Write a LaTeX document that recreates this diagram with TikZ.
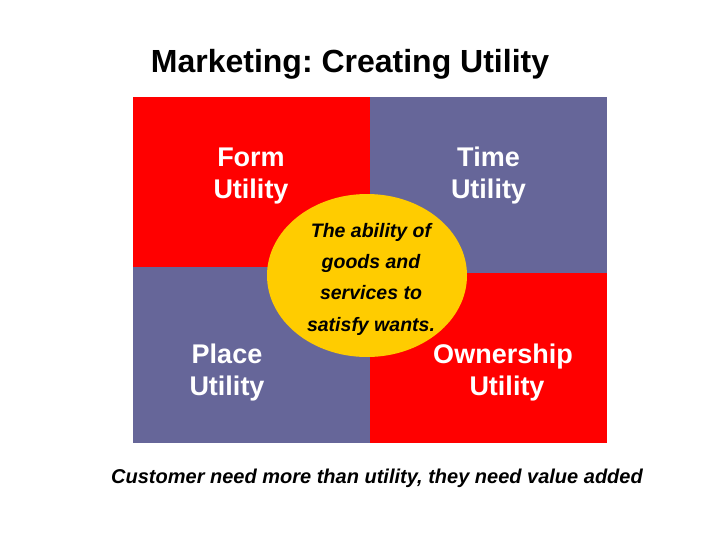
\documentclass[tikz,border=0pt]{standalone}
\usepackage{fontspec}
\setmainfont{Liberation Sans}
\frenchspacing
\usetikzlibrary{shapes.geometric}
\definecolor{qred}{HTML}{FF0000}
\definecolor{qblue}{HTML}{666699}
\definecolor{qyellow}{HTML}{FFCC00}
\begin{document}
\begin{tikzpicture}[x=1pt,y=-1pt,
  quadlabel/.style={text=white,font=\fontsize{27}{32}\selectfont\bfseries,align=center,anchor=base,inner sep=0pt},
  centertext/.style={text=black,font=\fontsize{19.5}{31.3}\selectfont\bfseries\itshape,align=center,anchor=base,inner sep=0pt},
  titletext/.style={font=\fontsize{32}{36}\selectfont\bfseries,anchor=base,inner sep=0pt},
  captiontext/.style={font=\fontsize{20}{24}\selectfont\bfseries\itshape,anchor=base,inner sep=0pt}]
\useasboundingbox[fill=white] (0,0) rectangle (728,546);
\fill[qred]  (133,97)  rectangle (370,267);
\fill[qblue] (370,97)  rectangle (607,273);
\fill[qblue] (133,267) rectangle (370,443);
\fill[qred]  (370,273) rectangle (607,443);
\node[ellipse,fill=qyellow,minimum width=200pt,minimum height=163pt,inner sep=0pt] (core) at (367,275.5) {};
\node[titletext] (title) at (350,72) {Marketing: Creating Utility};
\node[quadlabel] (form) at (251,198) {Form\\Utility};
\node[quadlabel] (time) at (488.5,198) {Time\\Utility};
\node[quadlabel] (place) at (227,395) {Place\\Utility};
\node[quadlabel] (own) at (503,395) {Ownership\\\hspace*{8pt}Utility};
\node[centertext] (def) at (371,331) {The ability of\\goods and\\services to\\satisfy wants.};
\node[captiontext] (caption) at (377,483) {Customer need more than utility, they need value added};
\end{tikzpicture}
\end{document}
